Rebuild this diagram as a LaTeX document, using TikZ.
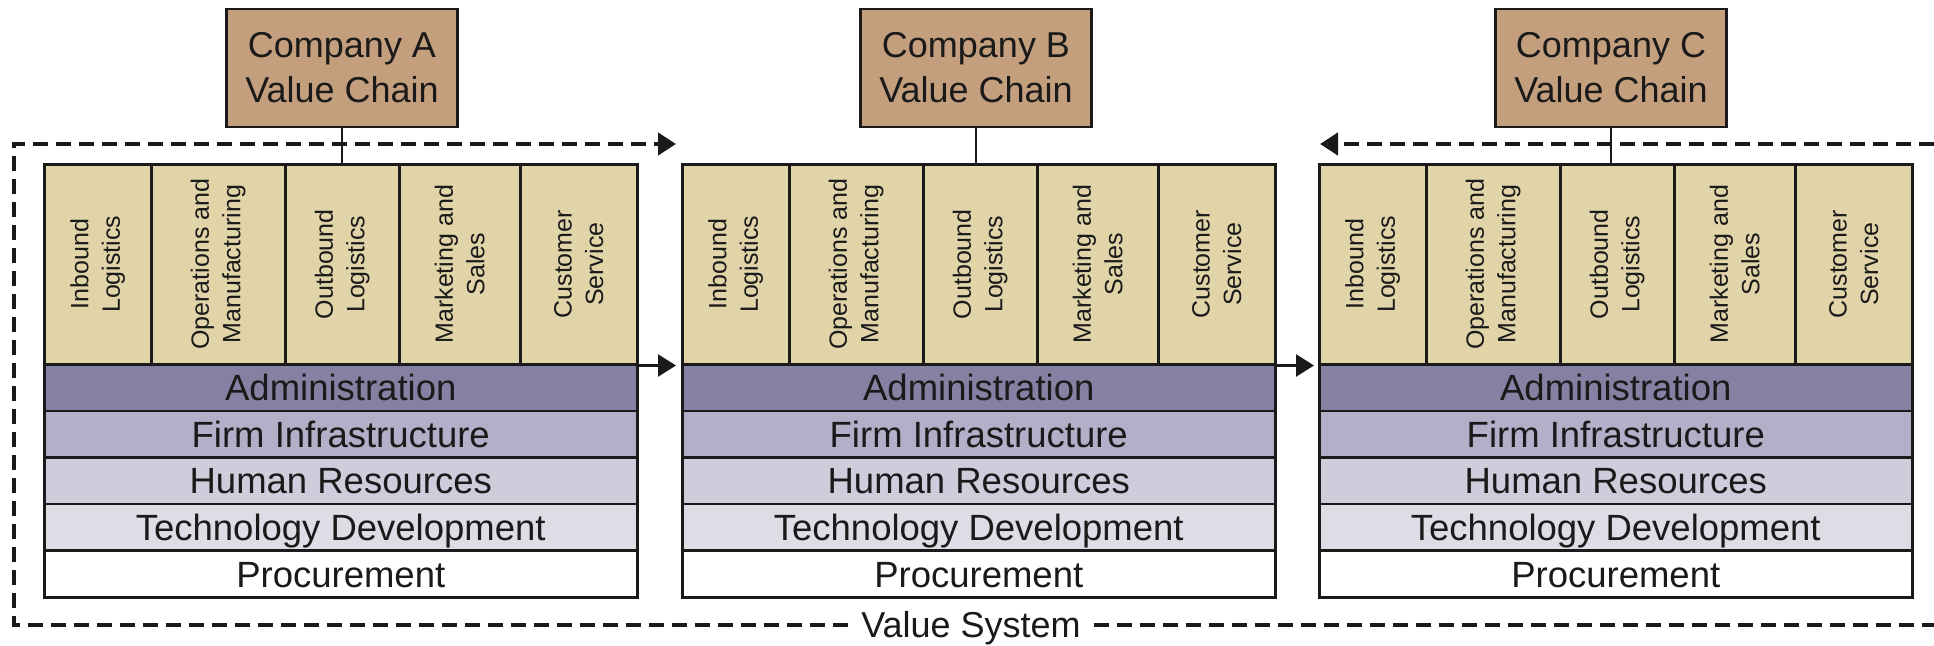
\documentclass[tikz,border=0pt]{standalone}
\usepackage{fontspec}
\setmainfont{Liberation Sans}
\usetikzlibrary{arrows.meta}
\definecolor{tanbox}{HTML}{C49F7D}
\definecolor{prim}{HTML}{E0D4A8}
\definecolor{adm}{HTML}{8581A3}
\definecolor{firm}{HTML}{B2AFC8}
\definecolor{hres}{HTML}{CFCDDC}
\definecolor{tech}{HTML}{DEDDE6}
\definecolor{ink}{HTML}{1A1A1A}
\tikzset{
  compbox/.style={draw=ink, line width=2.5pt, fill=tanbox, minimum width=231pt, minimum height=118pt,
    align=center, inner sep=0pt, text=ink, font=\fontsize{36}{45}\selectfont},
  colbox/.style={draw=ink, line width=2.5pt, fill=prim, minimum height=200pt, inner sep=0pt, anchor=north west},
  coltext/.style={rotate=90, align=center, inner sep=0pt, text=ink, font=\fontsize{25}{31.5}\selectfont},
  rowbox/.style={draw=ink, line width=2.5pt, minimum width=593pt, minimum height=46.6pt, inner sep=0pt,
    anchor=north west, text=ink, text height=26.1pt, text depth=0pt, font=\fontsize{36.5}{44}\selectfont},
  conn/.style={draw=ink, line width=2pt},
  flowarrow/.style={draw=ink, line width=2.5pt, -{Triangle[length=18pt,width=22pt]}},
  vsline/.style={draw=ink, line width=4.5pt, dash pattern=on 15pt off 8pt},
  vsarrow/.style={vsline, -{Triangle[length=18pt,width=22pt]}},
  vstext/.style={inner sep=0pt, text=ink, text height=25.8pt, text depth=0pt, font=\fontsize{36}{44}\selectfont}
}
\begin{document}
\begin{tikzpicture}[x=1pt,y=-1pt]
\useasboundingbox[fill=white] (0,0) rectangle (1934,645);
\foreach \ch/\xl/\bx/\nm in {a/43/342/A, b/681/976/B, c/1318/1611/C} {
  \node[compbox] (\ch box) at (\bx,68) {Company \nm\\Value Chain};
  \foreach \i/\off/\w/\txt in {1/0/107/{Inbound\\Logistics}, 2/107/134/{Operations and\\Manufacturing},
      3/241/114/{Outbound\\Logistics}, 4/355/121/{Marketing and\\Sales}, 5/476/117/{Customer\\Service}} {
    \node[colbox, minimum width=\w pt] (\ch col\i) at ({\xl+\off},163) {};
    \node[coltext] (\ch lab\i) at (\ch col\i) {\txt};
  }
  \foreach \j/\fc/\txt in {1/adm/Administration, 2/firm/Firm Infrastructure, 3/hres/Human Resources,
      4/tech/Technology Development, 5/white/Procurement} {
    \node[rowbox, fill=\fc] (\ch row\j) at (\xl,{363+46.6*(\j-1)}) {\txt};
  }
  \draw[conn] (\ch box.south) -- (\ch box.south |- \ch col1.north);
}
% flow arrows between chains
\draw[flowarrow] (acol5.south east) -- ([xshift=-5pt]bcol1.south west);
\draw[flowarrow] (bcol5.south east) -- ([xshift=-4pt]ccol1.south west);
% value system frame
\node[vstext] (vs) at (971,625) {Value System};
\coordinate (bl) at (14,625);
\coordinate (tl) at (14,144);
\coordinate (tipA) at (676,144);
\coordinate (rb) at (1934,625);
\coordinate (rt) at (1934,144);
\coordinate (tipC) at (1320,144);
\draw[vsarrow] ([xshift=-13pt]vs.west |- bl) -- (bl) -- (tl) -- (tipA);
\draw[vsline] ([xshift=13pt]vs.east |- rb) -- (rb);
\draw[vsarrow] (rt) -- (tipC);
\end{tikzpicture}
\end{document}
